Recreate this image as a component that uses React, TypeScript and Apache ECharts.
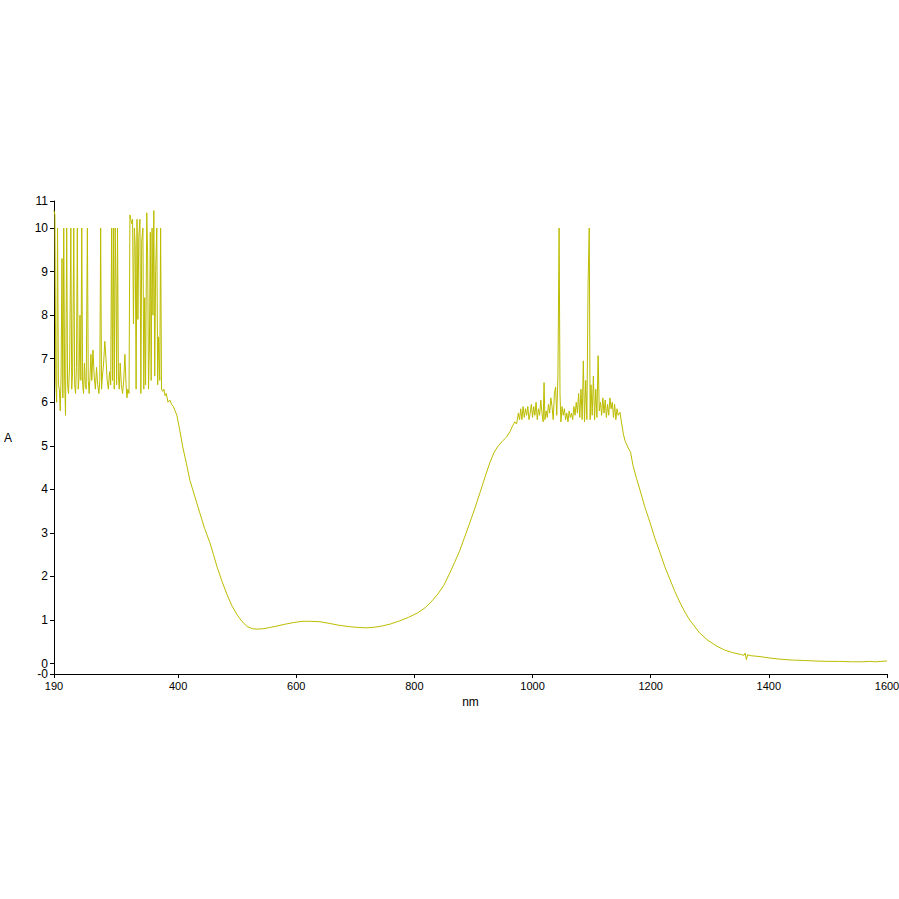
import React, { useEffect, useRef } from "react";
import * as echarts from "echarts";

// [wavelength nm, absorbance A]
const uvNoise: [number, number][] = [
  [190, 10.4], [191.5, 10.3], [193, 6.5], [194.5, 6.0], [196, 10.0], [197.5, 6.4], [199, 6.3],
  [200.5, 5.8], [202, 6.6], [203.5, 9.3], [205, 6.1], [206.5, 10.0], [208, 6.5], [209.5, 5.7],
  [211.5, 10.0], [213, 6.4], [214.5, 6.2], [216.5, 6.9], [218.5, 10.0], [220, 6.3], [221.5, 6.7],
  [223.5, 10.0], [225, 6.4], [226.5, 6.2], [228, 6.8], [229.5, 10.0], [231, 6.3], [232.5, 6.6],
  [234, 8.0], [235.5, 6.5], [237, 10.0], [238.5, 6.4], [240, 6.2], [241.5, 6.9], [243, 6.4],
  [244.5, 6.3], [246.5, 10.0], [248, 6.5], [249.5, 6.2], [251, 6.6], [252.5, 7.1], [254, 6.5],
  [256, 7.2], [258, 6.6], [260, 6.3], [262, 6.8], [264, 6.4], [266, 6.2], [267.5, 6.5],
  [269, 10.0], [270.5, 6.3], [272, 6.6], [274, 6.9], [276, 7.4], [278, 7.0], [280, 6.5],
  [282, 6.3], [284, 6.7], [286, 6.4], [287.5, 10.0], [289, 6.5], [290.5, 10.0], [292, 6.3],
  [293.5, 10.0], [295, 8.6], [296, 6.4], [297.5, 10.0], [299, 6.6], [300.5, 6.3], [302, 6.9],
  [304, 6.4], [306, 6.2], [308, 6.5], [310, 7.1], [312, 6.4], [313.5, 6.1], [315, 6.3],
  [317, 6.2], [318.5, 10.3], [320, 10.2], [321.5, 10.1], [323, 10.2], [324.5, 7.8], [326, 10.0],
  [327.5, 9.6], [329, 6.3], [330.5, 10.2], [332, 7.9], [333.5, 9.8], [335.5, 10.2], [337, 6.2],
  [338.5, 9.7], [340.5, 10.0], [342, 6.3], [343.5, 8.4], [345, 6.4], [347, 10.35], [348.5, 9.4],
  [350, 6.3], [351.5, 7.3], [353, 9.9], [354.5, 6.5], [356, 10.0], [357.5, 8.0], [359, 10.4],
  [360.5, 6.6], [362, 9.0], [364, 10.0], [365.5, 6.4], [367, 7.5], [369, 6.5], [370.5, 10.0],
  [372, 6.3], [374, 6.25], [376, 6.3], [378, 6.15], [380, 6.2], [383, 6.0], [386, 6.05],
  [389, 5.95], [392, 5.9], [395, 5.8],
];

const visibleBand: [number, number][] = [
  [398, 5.7], [403, 5.35], [408, 4.97], [414, 4.6], [420, 4.21], [428, 3.85], [437, 3.45],
  [445, 3.1], [454, 2.77], [460, 2.5], [466, 2.22], [474, 1.9], [483, 1.58], [491, 1.33],
  [500, 1.12], [508, 0.97], [517, 0.85], [526, 0.8], [534, 0.79], [545, 0.8], [556, 0.83],
  [567, 0.86], [580, 0.9], [595, 0.94], [610, 0.97], [625, 0.97], [640, 0.96], [657, 0.92],
  [672, 0.88], [688, 0.85], [703, 0.83], [718, 0.82], [730, 0.83], [745, 0.86], [760, 0.91],
  [775, 0.98], [790, 1.06], [805, 1.16], [818, 1.28], [830, 1.44], [840, 1.6], [850, 1.8],
  [860, 2.08], [868, 2.32], [877, 2.6], [885, 2.9], [893, 3.2], [902, 3.55], [911, 3.92],
  [920, 4.3], [928, 4.62], [935, 4.85], [942, 5.0], [950, 5.12], [956, 5.2], [962, 5.33],
  [966, 5.45], [970, 5.55], [973, 5.5], [976, 5.75], [978, 5.6], [980, 5.85], [982, 5.6],
];

const nirPlateau: [number, number][] = [
  [984, 5.9], [986, 5.65], [988, 5.85], [990, 5.7], [992, 5.9], [994, 5.6], [996, 5.75],
  [998, 5.95], [1000, 5.65], [1002, 5.9], [1004, 5.7], [1006, 6.0], [1008, 5.6], [1010, 5.85],
  [1012, 5.7], [1014, 6.05], [1016, 5.75], [1018, 5.55], [1019.5, 6.45], [1021, 5.6], [1023, 5.8],
  [1025, 5.65], [1027, 5.95], [1029, 5.75], [1031, 6.1], [1033, 5.9], [1035, 5.6], [1037, 6.2],
  [1039, 6.35], [1041, 5.7], [1043, 6.6], [1045, 10.0], [1046.5, 6.2], [1048, 5.55], [1050, 5.9],
  [1052, 5.7], [1054, 5.85], [1056, 5.6], [1058, 5.75], [1060, 5.55], [1062, 5.8], [1064, 5.65],
  [1066, 5.75], [1068, 5.6], [1070, 5.9], [1072, 5.7], [1074, 6.0], [1076, 5.75], [1078, 6.2],
  [1080, 5.65], [1082, 6.3], [1084, 5.6], [1086, 6.95], [1088, 5.55], [1090, 6.5], [1092, 5.6],
  [1094, 8.7], [1096, 10.0], [1097.5, 5.6], [1099, 6.4], [1101, 5.7], [1103, 6.6], [1105, 5.6],
  [1107, 6.3], [1109, 5.65], [1111, 7.07], [1113, 5.8], [1115, 6.0], [1117, 5.7], [1119, 6.1],
  [1121, 5.75], [1123, 6.05], [1125, 5.65], [1127, 5.95], [1129, 5.7], [1131, 6.1], [1133, 5.85],
  [1135, 6.0], [1137, 5.65], [1139, 5.95], [1141, 5.6], [1143, 5.85], [1145, 5.7], [1148, 5.77],
  [1151, 5.5], [1154, 5.25], [1157, 5.1],
];

const nirTail: [number, number][] = [
  [1162, 4.95], [1166, 4.85], [1170, 4.55], [1176, 4.25], [1182, 3.98], [1190, 3.6], [1199, 3.23],
  [1207, 2.88], [1216, 2.54], [1224, 2.22], [1233, 1.92], [1241, 1.65], [1250, 1.39], [1258, 1.18],
  [1266, 1.0], [1275, 0.84], [1283, 0.7], [1297, 0.53], [1312, 0.4], [1325, 0.31], [1339, 0.25],
  [1352, 0.21], [1358, 0.19], [1360, 0.24], [1362, 0.09], [1364, 0.2], [1370, 0.18], [1385, 0.16],
  [1400, 0.13], [1419, 0.1], [1440, 0.08], [1460, 0.07], [1475, 0.06], [1500, 0.05], [1520, 0.05],
  [1540, 0.04], [1559, 0.04], [1570, 0.05], [1580, 0.04], [1600, 0.06],
];

const xTicks = [190, 400, 600, 800, 1000, 1200, 1400, 1600];
const yMin = -0.24;
const yMax = 10.62;
const yTicks = [0, 1, 2, 3, 4, 5, 6, 7, 8, 9, 10, yMax];
const yMinTick = [yMin];

export default function App() {
  const ref = useRef<HTMLDivElement>(null);
  useEffect(() => {
    if (!ref.current) return;
    const chart = echarts.init(ref.current, undefined, { renderer: "svg" });
    const font = "'Liberation Sans', Arial, sans-serif";
    const data = [...uvNoise, ...visibleBand, ...nirPlateau, ...nirTail];
    const labelBase = { color: "#000", fontFamily: font, fontSize: 12, lineHeight: 10, margin: 6 };
    chart.setOption({
      animation: false,
      backgroundColor: "#ffffff",
      grid: {
        left: 54,
        right: 12,
        top: 201,
        bottom: 225,
        containLabel: false,
        outerBoundsMode: "none",
      },
      xAxis: {
        type: "value",
        min: 190,
        max: 1600,
        name: "nm",
        nameLocation: "middle",
        nameGap: 18,
        nameTextStyle: { color: "#000", fontFamily: font, fontSize: 12 },
        axisLine: { onZero: false, lineStyle: { color: "#000", width: 1 } },
        axisTick: { show: true, length: 4, customValues: xTicks, lineStyle: { color: "#000" } },
        axisLabel: {
          customValues: xTicks,
          color: "#000",
          fontFamily: font,
          fontSize: 11,
          margin: 6,
          showMinLabel: true,
          showMaxLabel: true,
          formatter: (v: number) => String(Math.round(v)),
        },
        splitLine: { show: false },
      },
      yAxis: [
        {
          type: "value",
          min: yMin,
          max: yMax,
          name: "A",
          nameLocation: "middle",
          nameRotate: 0,
          nameGap: 42,
          nameTextStyle: { color: "#000", fontFamily: font, fontSize: 12 },
          axisLine: { show: true, onZero: false, lineStyle: { color: "#000", width: 1 } },
          axisTick: { show: true, length: 4, customValues: yTicks, lineStyle: { color: "#000" } },
          axisLabel: {
            ...labelBase,
            customValues: yTicks,
            showMinLabel: true,
            showMaxLabel: true,
            formatter: (v: number) => String(Math.round(v)),
          },
          splitLine: { show: false },
        },
        {
          type: "value",
          position: "left",
          offset: 0,
          min: yMin,
          max: yMax,
          axisLine: { show: false, onZero: false },
          axisTick: { show: true, length: 4, customValues: yMinTick, lineStyle: { color: "#000" } },
          axisLabel: {
            ...labelBase,
            customValues: yMinTick,
            showMinLabel: true,
            formatter: () => "-0",
          },
          splitLine: { show: false },
        },
      ],
      series: [
        {
          type: "line",
          data,
          showSymbol: false,
          symbol: "none",
          lineStyle: { color: "#bcbc00", width: 1 },
          smooth: false,
        },
      ],
    });
    return () => chart.dispose();
  }, []);
  return (
    <div
      ref={ref}
      style={{ position: "fixed", left: 0, top: 0, width: 899, height: 899, background: "#fff" }}
    />
  );
}
